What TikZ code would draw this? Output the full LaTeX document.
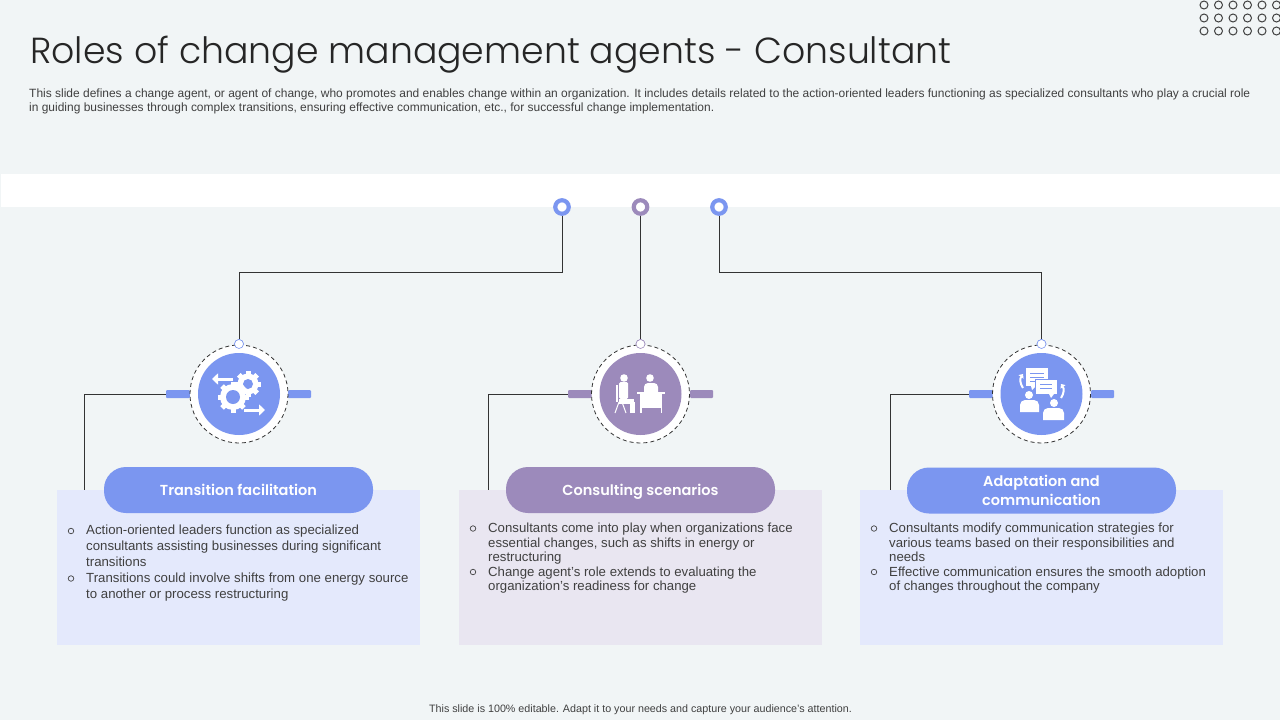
\documentclass[tikz,border=0pt]{standalone}
\usepackage{fontspec}
\usepackage{tikz}
\usetikzlibrary{arrows.meta}
\setmainfont{Liberation Sans}
\newfontfamily\titlefont{Poppins Light}
\newfontfamily\pillfont{Poppins SemiBold}

\definecolor{slidebg}{HTML}{F1F5F6}
\definecolor{agentblue}{HTML}{7B96F0}
\definecolor{agentpurple}{HTML}{9C8ABB}
\definecolor{panelblue}{HTML}{E4E9FC}
\definecolor{panelpurple}{HTML}{E9E6F1}
\definecolor{inktext}{HTML}{404040}

\tikzset{
    ringdot/.style={circle, draw=#1, line width=4.2pt, fill=white, minimum size=13.5pt, inner sep=0pt},
    linkdot/.style={circle, draw=#1, line width=0.6pt, fill=white, minimum size=9pt, inner sep=0pt},
    link/.style={draw=black!80, line width=0.9pt},
    tabbar/.style={fill=#1, rounded corners=1pt, draw=none},
    badge/.style={fill=white, draw=black!80, dash pattern=on 4pt off 3pt, line width=0.8pt},
    pill/.style={rounded corners=22pt, fill=#1, minimum width=269pt, minimum height=46pt, inner sep=0pt,
        text=white, align=center, font=\pillfont\fontsize{14.5}{19}\selectfont},
    panel/.style={fill=#1, minimum width=363pt, minimum height=155pt, inner sep=0pt},
    bullettext/.style={anchor=north west, inner sep=0pt, align=left, text=inktext},
    bulletdot/.style={circle, draw=inktext, line width=0.7pt, minimum size=5.5pt, inner sep=0pt},
    iconpart/.style={fill=white, draw=none}
}

\newcommand{\gearshape}[4]{%
    \foreach \ang in {0,45,...,315}{
        \fill[white, rotate around={\ang:(#1,#2)}] (#1-2.5,#2) rectangle (#1+2.5,#2-#3);
    }
    \fill[white] (#1,#2) circle ({#3-2.5});
    \fill[agentblue] (#1,#2) circle (#4);
}
\newcommand{\pilltext}[1]{\raisebox{0pt}[11pt][0pt]{#1}}

\begin{document}
\begin{tikzpicture}[x=1pt, y=-1pt]
    \useasboundingbox[fill=slidebg] (0,0) rectangle (1280,720);

    % header
    \node[anchor=west, inner sep=0pt, text=black!85, font=\titlefont\fontsize{36.25}{44}\selectfont] (title) at (30,55) {Roles of change management agents - Consultant};
    \node[anchor=north west, inner sep=0pt, align=left, text=inktext, font=\fontsize{11.98}{14}\selectfont] (intro) at (29,89) {This slide defines a change agent, or agent of change, who promotes and enables change within an organization. It includes details related to the action-oriented leaders functioning as specialized consultants who play a crucial role\\in guiding businesses through complex transitions, ensuring effective communication, etc., for successful change implementation.};
    \foreach \i in {1204,1218.5,1233,1247.5,1262,1276.5}
        \foreach \j in {5,18,31}
            \draw[black!75, line width=1pt] (\i,\j) circle (4);
    \fill[white] (1,174) rectangle (1280,207);

    % panels
    \node[panel=panelblue] (panelA) at (238.5,567.5) {};
    \node[panel=panelpurple] (panelB) at (640.5,567.5) {};
    \node[panel=panelblue] (panelC) at (1041.5,567.5) {};

    % top rings and small dots
    \node[ringdot=agentblue] (ringA) at (562,207) {};
    \node[ringdot=agentpurple] (ringB) at (640.5,207) {};
    \node[ringdot=agentblue] (ringC) at (719,207) {};
    \node[linkdot=agentblue] (dotA) at (239,344) {};
    \node[linkdot=agentpurple] (dotB) at (640.5,344) {};
    \node[linkdot=agentblue] (dotC) at (1041.5,344) {};
    \draw[link] (ringA) -- (562,272) -| (dotA);
    \draw[link] (ringB) -- (dotB);
    \draw[link] (ringC) -- (719,272) -| (dotC);

    % side tabs and left connectors
    \coordinate (tabA) at (166,394);
    \coordinate (tabB) at (568,394);
    \coordinate (tabC) at (969,394);
    \draw[link] (tabA) -| (84.5,490);
    \draw[link] (tabB) -| (488.5,490);
    \draw[link] (tabC) -| (890.5,490);
    \fill[tabbar=agentblue] (166,390) rectangle (190,398);
    \fill[tabbar=agentblue] (288,390) rectangle (311,398);
    \fill[tabbar=agentpurple] (568,390) rectangle (592,398);
    \fill[tabbar=agentpurple] (690,390) rectangle (713,398);
    \fill[tabbar=agentblue] (969,390) rectangle (993,398);
    \fill[tabbar=agentblue] (1091,390) rectangle (1114,398);

    % badges
    \draw[badge] (239,394) circle (49);
    \fill[agentblue] (239,394) circle (41);
    \draw[badge] (640.5,394) circle (49);
    \fill[agentpurple] (640.5,394) circle (41);
    \draw[badge] (1041.5,394) circle (49);
    \fill[agentblue] (1041.5,394) circle (41);
    \node[linkdot=agentblue] at (239,344) {};
    \node[linkdot=agentpurple] at (640.5,344) {};
    \node[linkdot=agentblue] at (1041.5,344) {};

    % gear icon
    \gearshape{248}{384}{13}{5}
    \gearshape{233}{397}{15.5}{7}
    \draw[white, line width=3pt, -{Triangle[width=11pt,length=6pt]}] (233,379) -- (212,379);
    \draw[white, line width=3pt, -{Triangle[width=11pt,length=6pt]}] (244,410) -- (265,410);

    % desk icon
    \fill[iconpart] (624,378) circle (3.8);
    \fill[iconpart] (616,385) rectangle (618,402);
    \fill[iconpart, rounded corners=1.5pt] (619,382) rectangle (628,399);
    \fill[iconpart] (619,399) rectangle (634,404);
    \fill[iconpart] (630,402) rectangle (635,413);
    \draw[white, line width=1pt] (619,402) -- (615,413);
    \draw[white, line width=1pt] (622,402) -- (626,413);
    \fill[iconpart] (650,378) circle (3.8);
    \fill[iconpart] (644,392) [rounded corners=4pt] -- (644,383) -- (658,383) [sharp corners] -- (658,392) -- cycle;
    \fill[iconpart] (637,391.5) rectangle (665,393.5);
    \fill[iconpart] (640,393.5) rectangle (662,408);
    \fill[iconpart] (640,408) rectangle (641.5,413);
    \fill[iconpart] (660.5,408) rectangle (662,413);

    % dialogue icon
    \fill[iconpart] (1026,368) rectangle (1048,386);
    \fill[iconpart] (1031,386) -- (1036,386) -- (1032,390) -- cycle;
    \draw[agentblue, line width=0.7pt] (1030,373) -- (1044,373) (1030,377) -- (1044,377) (1030,381) -- (1040,381);
    \fill[iconpart, draw=agentblue, line width=0.7pt] (1035,379) rectangle (1057,394);
    \fill[iconpart] (1049,394) -- (1054,394) -- (1051,398) -- cycle;
    \draw[agentblue, line width=0.7pt] (1040,384) -- (1052,384) (1040,388) -- (1052,388);
    \fill[iconpart] (1029,395) circle (4);
    \fill[iconpart] (1020,412) [rounded corners=5pt] -- (1020,400) -- (1039,400) [sharp corners] -- (1039,412) -- cycle;
    \fill[iconpart] (1054,403) circle (4);
    \fill[iconpart] (1043,420) [rounded corners=5pt] -- (1043,408) -- (1064,408) [sharp corners] -- (1064,420) -- cycle;
    \draw[white, line width=2pt, -{Triangle[width=6pt,length=3.5pt]}] (1023,388) to[bend left=35] (1023,374);
    \draw[white, line width=2pt, -{Triangle[width=6pt,length=3.5pt]}] (1061,398) to[bend right=35] (1061,384);

    % headings
    \node[pill=agentblue] (pillA) at (238.5,490) {\pilltext{Transition facilitation}};
    \node[pill=agentpurple] (pillB) at (640.5,490) {\pilltext{Consulting scenarios}};
    \node[pill=agentblue] (pillC) at (1041.5,490.5) {Adaptation and\\communication};

    % bullets
    \node[bulletdot] (bA1) at (71,531) {};
    \node[bullettext, font=\fontsize{13.23}{16}\selectfont] (textA1) at (86,525) {Action-oriented leaders function as specialized\\consultants assisting businesses during significant\\transitions};
    \node[bulletdot] (bA2) at (71,578.5) {};
    \node[bullettext, font=\fontsize{13.23}{16}\selectfont] (textA2) at (86,573) {Transitions could involve shifts from one energy source\\to another or process restructuring};
    \node[bulletdot] (bB1) at (473,528.5) {};
    \node[bullettext, font=\fontsize{13.2}{14.6}\selectfont] (textB1) at (488,523) {Consultants come into play when organizations face\\essential changes, such as shifts in energy or\\restructuring};
    \node[bulletdot] (bB2) at (473,572) {};
    \node[bullettext, font=\fontsize{13.2}{14}\selectfont] (textB2) at (488,567) {Change agent's role extends to evaluating the\\organization's readiness for change};
    \node[bulletdot] (bC1) at (874,528.5) {};
    \node[bullettext, font=\fontsize{13.2}{14.6}\selectfont] (textC1) at (889,523) {Consultants modify communication strategies for\\various teams based on their responsibilities and\\needs};
    \node[bulletdot] (bC2) at (874,572) {};
    \node[bullettext, font=\fontsize{13.2}{14}\selectfont] (textC2) at (889,567) {Effective communication ensures the smooth adoption\\of changes throughout the company};

    % footer
    \node[inner sep=0pt, text=inktext, font=\fontsize{10.72}{13}\selectfont] (footer) at (640.5,710) {This slide is 100\% editable. Adapt it to your needs and capture your audience's attention.};
\end{tikzpicture}
\end{document}
